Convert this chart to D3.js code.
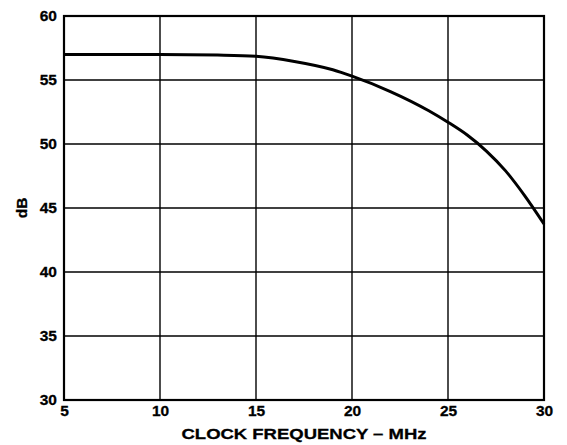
<!DOCTYPE html>
<html>
<head>
<meta charset="utf-8">
<script src="https://cdn.jsdelivr.net/npm/d3@7"></script>
<style>
  body { margin: 0; background: #fff; }
  text { font-family: "Liberation Sans", Arial, Helvetica, sans-serif; font-weight: bold; fill: #000; }
</style>
</head>
<body>
<svg id="chart" width="567" height="445"></svg>
<script>
// values
var freqMHz = [5, 10, 13, 15, 17, 19, 20, 22, 24, 25, 26, 27, 28, 29, 30];
var gainDb  = [57.0, 57.0, 56.95, 56.85, 56.45, 55.8, 55.3, 54.1, 52.6, 51.7, 50.7, 49.45, 47.9, 45.95, 43.75];
var xTicks = [5, 10, 15, 20, 25, 30];
var yTicks = [30, 35, 40, 45, 50, 55, 60];
var xTitle = "CLOCK FREQUENCY \u2013 MHz";
var yTitle = "dB";

var margin = {top: 16, right: 23, bottom: 45, left: 64},
	width = 567 - margin.left - margin.right,
	height = 445 - margin.top - margin.bottom;

var svg = d3.select("#chart");
var g = svg.append("g")
	.attr("transform", "translate(" + margin.left + "," + margin.top + ")");

var x = d3.scaleLinear().domain([5, 30]).range([0, width]);
var y = d3.scaleLinear().domain([30, 60]).range([height, 0]);

// grid
g.append("g")
	.selectAll("line")
	.data(xTicks)
	.join("line")
		.attr("x1", d => x(d)).attr("x2", d => x(d))
		.attr("y1", 0).attr("y2", height)
		.attr("stroke", "#000")
		.attr("stroke-width", 1.4);
g.append("g")
	.selectAll("line")
	.data(yTicks)
	.join("line")
		.attr("x1", 0).attr("x2", width)
		.attr("y1", d => y(d)).attr("y2", d => y(d))
		.attr("stroke", "#000")
		.attr("stroke-width", 1.4);

// axes (labels only, lines drawn by the frame)
var xAxis = g.append("g")
	.attr("transform", "translate(0," + height + ")")
	.call(d3.axisBottom(x).tickValues(xTicks).tickSize(0).tickPadding(5).tickFormat(d3.format("d")));
var yAxis = g.append("g")
	.call(d3.axisLeft(y).tickValues(yTicks).tickSize(0).tickPadding(7).tickFormat(d3.format("d")));
[xAxis, yAxis].forEach(function(a) {
	a.select(".domain").remove();
	a.selectAll("text")
		.style("font-size", "15.5px")
		.style("font-family", "'Liberation Sans', Arial, sans-serif")
		.style("font-weight", "bold")
		.attr("stroke", "#000")
		.attr("stroke-width", 0.3);
});

// frame
g.append("rect")
	.attr("x", 0).attr("y", 0)
	.attr("width", width).attr("height", height)
	.attr("fill", "none")
	.attr("stroke", "#000")
	.attr("stroke-width", 2.2);

// curve
var line = d3.line()
	.x((d, i) => x(freqMHz[i]))
	.y(d => y(d))
	.curve(d3.curveMonotoneX);
g.append("path")
	.datum(gainDb)
	.attr("d", line)
	.attr("fill", "none")
	.attr("stroke", "#000")
	.attr("stroke-width", 3);

// titles
svg.append("text")
	.attr("x", margin.left + width / 2)
	.attr("y", 439)
	.attr("text-anchor", "middle")
	.attr("textLength", 245)
	.attr("lengthAdjust", "spacingAndGlyphs")
	.attr("stroke", "#000")
	.attr("stroke-width", 0.3)
	.style("font-size", "15.5px")
	.text(xTitle);
svg.append("text")
	.attr("transform", "translate(27," + (margin.top + height / 2) + ") rotate(-90)")
	.attr("text-anchor", "middle")
	.attr("stroke", "#000")
	.attr("stroke-width", 0.3)
	.style("font-size", "15.5px")
	.text(yTitle);
</script>
</body>
</html>
